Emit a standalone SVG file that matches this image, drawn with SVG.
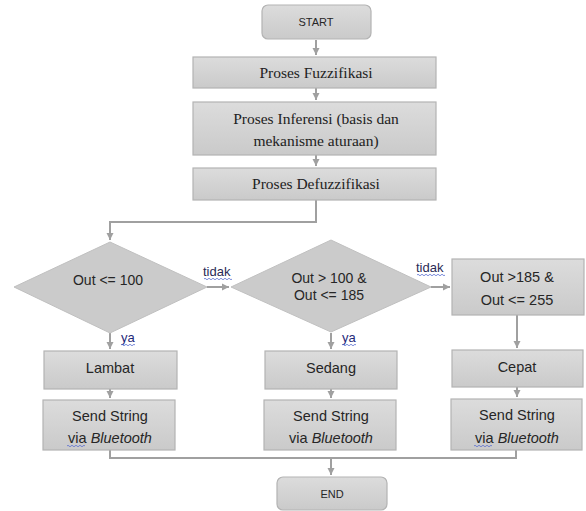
<svg xmlns="http://www.w3.org/2000/svg" width="586" height="511" viewBox="0 0 586 511">
<defs>
<linearGradient id="g" x1="0" y1="0" x2="0" y2="1">
<stop offset="0" stop-color="#dcdcdc"/>
<stop offset="1" stop-color="#cacaca"/>
</linearGradient>
<marker id="ah" markerWidth="8" markerHeight="8" refX="7" refY="4" orient="auto" markerUnits="userSpaceOnUse">
<path d="M0,0.5 L7,4 L0,7.5 Z" fill="#a0a0a0"/>
</marker>
</defs>
<style>
.box{fill:url(#g);stroke:#b3b3b3;stroke-width:1.2}
.dia{fill:#cbcbcb;stroke:#c0c0c0;stroke-width:1}
.serif{font-family:"Liberation Serif","Times New Roman",serif;font-size:15.5px;fill:#222;text-anchor:middle}
.sans{font-family:"Liberation Sans",Arial,sans-serif;font-size:14.5px;fill:#262626;text-anchor:middle}
.dt{font-family:"Liberation Sans",Arial,sans-serif;font-size:14px;fill:#262626;text-anchor:middle}
.small{font-family:"Liberation Sans",Arial,sans-serif;font-size:11px;fill:#262626;text-anchor:middle}
.lbl{font-family:"Liberation Sans",Arial,sans-serif;font-size:13px;fill:#2a2a55}
.ya{font-family:"Liberation Sans",Arial,sans-serif;font-size:13px;fill:#1f2a7a}
.con{fill:none;stroke:#a0a0a0;stroke-width:2}
.wav{fill:none;stroke:#5a6fd0;stroke-width:0.8}
</style>

<g id="connectors">
<path class="con" d="M316,40 V55" marker-end="url(#ah)"/>
<path class="con" d="M316,88 V100" marker-end="url(#ah)"/>
<path class="con" d="M316,155 V166" marker-end="url(#ah)"/>
<path class="con" d="M316,200 V222 H110 V240" marker-end="url(#ah)"/>
<path class="con" d="M207,287 H229" marker-end="url(#ah)"/>
<path class="con" d="M431,287 H450" marker-end="url(#ah)"/>
<path class="con" d="M110,333 V349" marker-end="url(#ah)"/>
<path class="con" d="M331,333 V349" marker-end="url(#ah)"/>
<path class="con" d="M517,315 V348" marker-end="url(#ah)"/>
<path class="con" d="M110,389 V398" marker-end="url(#ah)"/>
<path class="con" d="M331,389 V398" marker-end="url(#ah)"/>
<path class="con" d="M517,387 V397" marker-end="url(#ah)"/>
<path class="con" d="M110,450 V458 H516 V450"/>
<path class="con" d="M331,458 V475" marker-end="url(#ah)"/>
<text class="lbl" x="203" y="276">tidak</text>
<path class="wav" d="M204,279 q1,-1.5 2,0 t2,0 t2,0 t2,0 t2,0 t2,0 t2,0 t2,0 t2,0 t2,0 t2,0 t2,0 t2,0 t2,0"/>
<text class="lbl" x="416" y="272">tidak</text>
<path class="wav" d="M417,275 q1,-1.5 2,0 t2,0 t2,0 t2,0 t2,0 t2,0 t2,0 t2,0 t2,0 t2,0 t2,0 t2,0 t2,0 t2,0"/>
<text class="ya" x="121" y="342">ya</text>
<path class="wav" d="M121,345 q1,-1.5 2,0 t2,0 t2,0 t2,0 t2,0 t2,0 t2,0"/>
<text class="ya" x="342" y="342">ya</text>
<path class="wav" d="M342,345 q1,-1.5 2,0 t2,0 t2,0 t2,0 t2,0 t2,0 t2,0"/>
</g>

<g id="start">
<rect class="box" x="262" y="5" width="109" height="34" rx="6"/>
<text class="small" x="316" y="26">START</text>
</g>
<g id="fuzzifikasi">
<rect class="box" x="193" y="57" width="243" height="31"/>
<text class="serif" x="316" y="78">Proses Fuzzifikasi</text>
</g>
<g id="inferensi">
<rect class="box" x="193" y="102" width="243" height="53"/>
<text class="serif" x="316" y="124">Proses Inferensi (basis dan</text>
<text class="serif" x="316" y="146">mekanisme aturaan)</text>
</g>
<g id="defuzzifikasi">
<rect class="box" x="193" y="168" width="243" height="32"/>
<text class="serif" x="316" y="189">Proses Defuzzifikasi</text>
</g>

<g id="dec1">
<polygon class="dia" points="110,242 207,287 110,333 14,287"/>
<text class="dt" x="108" y="285">Out &lt;= 100</text>
</g>
<g id="dec2">
<polygon class="dia" points="331,240 431,287 331,332 231,287"/>
<text class="dt" x="329" y="283">Out &gt; 100 &amp;</text>
<text class="dt" x="329" y="300">Out &lt;= 185</text>
</g>
<g id="dec3">
<rect class="box" x="452" y="259" width="132" height="56"/>
<text class="sans" x="517" y="282">Out &gt;185 &amp;</text>
<text class="sans" x="517" y="305">Out &lt;= 255</text>
</g>

<g id="lambat">
<rect class="box" x="44" y="351" width="133" height="38"/>
<text class="sans" x="110" y="373">Lambat</text>
</g>
<g id="sedang">
<rect class="box" x="265" y="351" width="132" height="38"/>
<text class="sans" x="331" y="373">Sedang</text>
</g>
<g id="cepat">
<rect class="box" x="452" y="350" width="131" height="37"/>
<text class="sans" x="517" y="372">Cepat</text>
</g>

<g id="send1">
<rect class="box" x="43" y="400" width="132" height="50"/>
<text class="sans" x="110" y="421">Send String</text>
<text class="sans" x="110" y="443">via <tspan font-style="italic">Bluetooth</tspan></text>
<path class="wav" d="M67,446 q1,-1.5 2,0 t2,0 t2,0 t2,0 t2,0 t2,0 t2,0 t2,0 t2,0"/>
</g>
<g id="send2">
<rect class="box" x="264" y="400" width="132" height="50"/>
<text class="sans" x="331" y="421">Send String</text>
<text class="sans" x="331" y="443">via <tspan font-style="italic">Bluetooth</tspan></text>
</g>
<g id="send3">
<rect class="box" x="451" y="399" width="131" height="51"/>
<text class="sans" x="517" y="420">Send String</text>
<text class="sans" x="517" y="443">via <tspan font-style="italic">Bluetooth</tspan></text>
<path class="wav" d="M474,446 q1,-1.5 2,0 t2,0 t2,0 t2,0 t2,0 t2,0 t2,0 t2,0 t2,0"/>
</g>

<g id="end">
<rect class="box" x="277" y="477" width="110" height="33" rx="6"/>
<text class="small" x="332" y="498">END</text>
</g>
</svg>
